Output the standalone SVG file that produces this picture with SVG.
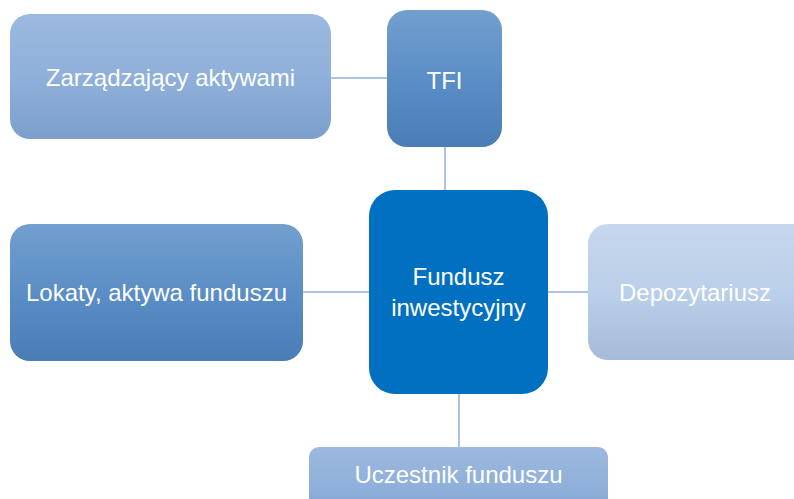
<svg xmlns="http://www.w3.org/2000/svg" width="794" height="499" viewBox="0 0 794 499">
<defs>
<linearGradient id="gLight" x1="0" y1="0" x2="0" y2="1">
<stop offset="0" stop-color="#9cb9df"/>
<stop offset="0.5" stop-color="#8fb0da"/>
<stop offset="1" stop-color="#7b9fcb"/>
</linearGradient>
<linearGradient id="gMid" x1="0" y1="0" x2="0" y2="1">
<stop offset="0" stop-color="#729fcd"/>
<stop offset="0.5" stop-color="#5b8ec6"/>
<stop offset="1" stop-color="#4a7db5"/>
</linearGradient>
<linearGradient id="gPale" x1="0" y1="0" x2="0" y2="1">
<stop offset="0" stop-color="#c6d7ed"/>
<stop offset="0.5" stop-color="#bacfe9"/>
<stop offset="1" stop-color="#a6bbd9"/>
</linearGradient>
<style>
.lbl{font-family:"Liberation Sans",Arial,sans-serif;font-size:24px;fill:#ffffff;text-anchor:middle;dominant-baseline:central}
.conn{stroke:#8fb1dc;stroke-width:1.5;fill:none}
</style>
</defs>
<rect width="794" height="499" fill="#ffffff"/>
<g id="connectors">
<line class="conn" x1="331" y1="78" x2="387" y2="78"/>
<line class="conn" x1="445" y1="147" x2="445" y2="190"/>
<line class="conn" x1="303" y1="292" x2="369" y2="292"/>
<line class="conn" x1="548" y1="292" x2="588" y2="292"/>
<line class="conn" x1="459" y1="394" x2="459" y2="447"/>
</g>
<g id="node-zarzadzajacy">
<rect x="10" y="14" width="321" height="125" rx="20" fill="url(#gLight)"/>
<text class="lbl" x="170.5" y="77">Zarządzający aktywami</text>
</g>
<g id="node-tfi">
<rect x="387" y="10" width="115" height="137" rx="20" fill="url(#gMid)"/>
<text class="lbl" x="444.5" y="80">TFI</text>
</g>
<g id="node-fundusz">
<rect x="369" y="190" width="179" height="204" rx="26" fill="#0270c0"/>
<text class="lbl" x="458.5" y="276">Fundusz</text>
<text class="lbl" x="458.5" y="307">inwestycyjny</text>
</g>
<g id="node-lokaty">
<rect x="10" y="224" width="293" height="137" rx="20" fill="url(#gMid)"/>
<text class="lbl" x="156.5" y="292">Lokaty, aktywa funduszu</text>
</g>
<g id="node-depozytariusz">
<rect x="588" y="224" width="226" height="136" rx="20" fill="url(#gPale)"/>
<text class="lbl" x="695" y="292">Depozytariusz</text>
</g>
<g id="node-uczestnik">
<rect x="309" y="447" width="299" height="80" rx="10" fill="url(#gLight)"/>
<text class="lbl" x="458.5" y="474">Uczestnik funduszu</text>
</g>
</svg>
